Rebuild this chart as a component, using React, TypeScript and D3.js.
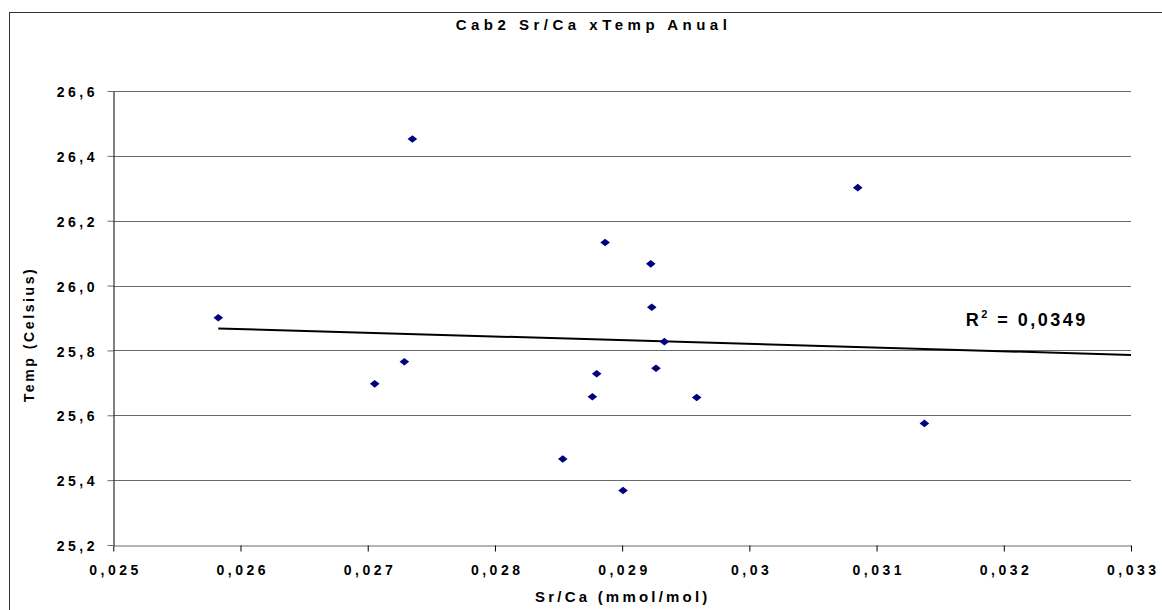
import React, { useEffect, useRef } from 'react';
import * as d3 from 'd3';

// Sr/Ca (mmol/mol) vs annual temperature (Celsius)
const srCa = [
  0.025825, 0.027055, 0.027288, 0.027351, 0.028866, 0.029225, 0.029233, 0.029332,
  0.0288, 0.029266, 0.028766, 0.029586, 0.028533, 0.029007, 0.030852, 0.031376,
];
const temp = [
  25.901, 25.697, 25.765, 26.452, 26.133, 26.067, 25.933, 25.827,
  25.728, 25.745, 25.657, 25.655, 25.465, 25.368, 26.302, 25.575,
];

// linear trendline as drawn in the sheet (start / end)
const trendX = [0.025825, 0.033];
const trendY = [25.868, 25.786];

const xTicks = [0.025, 0.026, 0.027, 0.028, 0.029, 0.03, 0.031, 0.032, 0.033];
const yTicks = [25.2, 25.4, 25.6, 25.8, 26.0, 26.2, 26.4, 26.6];

const chartTitle = 'Cab2 Sr/Ca xTemp Anual';
const xTitle = 'Sr/Ca (mmol/mol)';
const yTitle = 'Temp (Celsius)';
const r2Value = '0,0349';

const FONT = 'Arial, "Liberation Sans", sans-serif';

const App = () => {
  const ref = useRef<SVGSVGElement>(null);

  useEffect(() => {
    const svg = d3.select(ref.current);
    svg.selectAll('*').remove();

    const x = d3.scaleLinear().domain([0.025, 0.033]).range([113.3, 1131]);
    const y = d3.scaleLinear().domain([25.2, 26.6]).range([545, 91]);

    // outer chart frame
    svg.append('rect')
      .attr('x', 9.5).attr('y', 12.5)
      .attr('width', 1200).attr('height', 700)
      .attr('fill', 'none').attr('stroke', '#333').attr('stroke-width', 1);

    // horizontal gridlines
    svg.append('g')
      .selectAll('line')
      .data(yTicks.slice(1))
      .join('line')
        .attr('x1', x(0.025)).attr('x2', x(0.033))
        .attr('y1', d => Math.round(y(d)) + 0.5).attr('y2', d => Math.round(y(d)) + 0.5)
        .attr('stroke', '#6b6b6b').attr('stroke-width', 1);

    const commaFmt = (digits: number) => (d: d3.NumberValue) =>
      (+d).toFixed(digits).replace(/0+$/, m => (digits === 1 ? m : '')).replace('.', ',');

    // x axis
    const gx = svg.append('g')
      .attr('transform', `translate(0,${Math.round(y(25.2)) + 0.5})`)
      .call(d3.axisBottom(x).tickValues(xTicks).tickSize(6).tickSizeOuter(0)
        .tickFormat(d => String(+(+d).toFixed(3)).replace('.', ',')));
    gx.select('.domain').attr('stroke', '#6b6b6b');
    gx.selectAll('.tick line').attr('stroke', '#000');
    gx.selectAll('.tick text')
      .attr('y', 29).attr('dy', 0).attr('dx', 1.75)
      .attr('fill', '#000')
      .style('font-family', FONT).style('font-size', '14px').style('font-weight', 'bold')
      .style('letter-spacing', '3.5px');

    // y axis
    const gy = svg.append('g')
      .attr('transform', `translate(${Math.round(x(0.025)) + 0.5},0)`)
      .call(d3.axisLeft(y).tickValues(yTicks).tickSize(6).tickSizeOuter(0).tickPadding(9.5)
        .tickFormat(commaFmt(1)));
    gy.select('.domain').attr('stroke', '#000');
    gy.selectAll('.tick line').attr('stroke', '#6b6b6b');
    gy.selectAll('.tick text')
      .attr('dy', '0.4em')
      .attr('fill', '#000')
      .style('font-family', FONT).style('font-size', '14px').style('font-weight', 'bold')
      .style('letter-spacing', '3.5px');

    // trendline
    const line = d3.line<number>().x(d => x(d)).y((d, i) => y(trendY[i]));
    svg.append('path')
      .attr('d', line(trendX))
      .attr('fill', 'none').attr('stroke', '#000').attr('stroke-width', 2);

    // markers
    const diamond = 'M0,-3.8L4.8,0L0,3.8L-4.8,0Z';
    svg.append('g')
      .selectAll('path')
      .data(srCa)
      .join('path')
        .attr('d', diamond)
        .attr('transform', (d, i) => `translate(${x(d)},${y(temp[i])})`)
        .attr('fill', '#000080');

    // titles
    svg.append('text')
      .attr('x', 593.5).attr('y', 30)
      .attr('text-anchor', 'middle')
      .style('font-family', FONT).style('font-size', '15px').style('font-weight', 'bold')
      .style('letter-spacing', '4.5px')
      .text(chartTitle);

    svg.append('text')
      .attr('x', 622.8).attr('y', 601.7)
      .attr('text-anchor', 'middle')
      .style('font-family', FONT).style('font-size', '15px').style('font-weight', 'bold')
      .style('letter-spacing', '3.2px')
      .text(xTitle);

    svg.append('text')
      .attr('transform', 'translate(34.3,334.5) rotate(-90)')
      .attr('text-anchor', 'middle')
      .style('font-family', FONT).style('font-size', '14px').style('font-weight', 'bold')
      .style('letter-spacing', '2.6px')
      .text(yTitle);

    // R squared label
    const r2 = svg.append('text')
      .attr('x', 965.7).attr('y', 326)
      .style('font-family', FONT).style('font-size', '18px').style('font-weight', 'bold')
      .style('letter-spacing', '2.5px');
    r2.append('tspan').text('R');
    r2.append('tspan').attr('dy', -8).style('font-size', '11px').text('2');
    r2.append('tspan').attr('dy', 8).text(` = ${r2Value}`);
  }, []);

  return (
    <div style={{ position: 'absolute', left: 0, top: 0 }}>
      <svg ref={ref} width={1162} height={610} style={{ display: 'block', background: '#fff' }} />
    </div>
  );
};

export default App;
